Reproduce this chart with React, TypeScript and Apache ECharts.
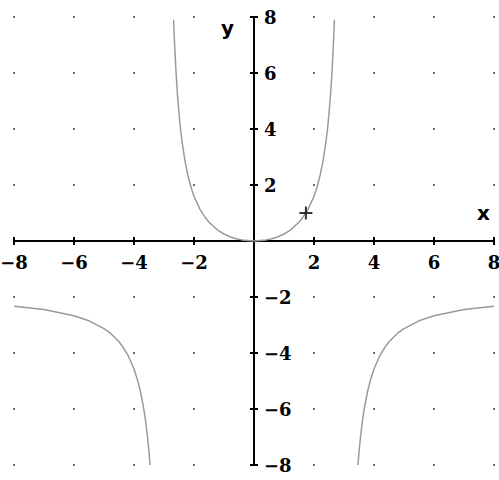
import React, { useEffect, useRef } from "react";
import * as echarts from "echarts";

// Tick values on both axes
const tickValues: number[] = [-8, -6, -4, -2, 0, 2, 4, 6, 8];

// Curve branches (x, y); null separates branches
const centerX: number[] = [-2.68, -2.65, -2.6, -2.55, -2.5, -2.45, -2.4, -2.3, -2.2, -2.1, -2.0, -1.8, -1.6, -1.5, -1.2, -1.0, -0.8, -0.6, -0.4, 0, 0.4, 0.6, 0.8, 1.0, 1.2, 1.5, 1.6, 1.8, 2.0, 2.1, 2.2, 2.3, 2.4, 2.45, 2.5, 2.55, 2.6, 2.65, 2.68];
const centerY: number[] = [7.9, 7.1, 6.04, 5.21, 4.55, 4.0, 3.56, 2.85, 2.33, 1.92, 1.6, 1.13, 0.8, 0.67, 0.38, 0.25, 0.15, 0.08, 0.04, 0, 0.04, 0.08, 0.15, 0.25, 0.38, 0.67, 0.8, 1.13, 1.6, 1.92, 2.33, 2.85, 3.56, 4.0, 4.55, 5.21, 6.04, 7.1, 7.9];

const leftX: number[] = [-8, -7, -6, -5.5, -5, -4.8, -4.5, -4.4, -4.2, -4, -3.9, -3.8, -3.7, -3.65, -3.6, -3.55, -3.5, -3.465];
const leftY: number[] = [-2.33, -2.45, -2.67, -2.85, -3.13, -3.28, -3.6, -3.74, -4.08, -4.57, -4.9, -5.31, -5.84, -6.16, -6.55, -7.0, -7.54, -8.0];

const rightX: number[] = [3.465, 3.5, 3.55, 3.6, 3.65, 3.7, 3.8, 3.9, 4, 4.2, 4.4, 4.5, 4.8, 5, 5.5, 6, 7, 8];
const rightY: number[] = [-8.0, -7.54, -7.0, -6.55, -6.16, -5.84, -5.31, -4.9, -4.57, -4.08, -3.74, -3.6, -3.28, -3.13, -2.85, -2.67, -2.45, -2.33];

// Marked point
const markX: number[] = [1.73];
const markY: number[] = [1];

const fmt = (v: number) => (v === 0 ? "" : v < 0 ? "\u2212" + -v : String(v));

export default function App() {
  const ref = useRef<HTMLDivElement>(null);

  useEffect(() => {
    if (!ref.current) return;
    const chart = echarts.init(ref.current, undefined, { renderer: "svg" });

    const dots: number[][] = [];
    tickValues.forEach((gx) => {
      tickValues.forEach((gy) => {
        if (gx !== 0 && gy !== 0) dots.push([gx, gy]);
      });
    });

    const curve: (number[] | null)[] = [];
    centerX.forEach((x, i) => curve.push([x, centerY[i]]));
    curve.push(null);
    leftX.forEach((x, i) => curve.push([x, leftY[i]]));
    curve.push(null);
    rightX.forEach((x, i) => curve.push([x, rightY[i]]));

    const labelFont = {
      fontFamily: "DejaVu Serif",
      fontWeight: "bold" as const,
      fontSize: 18,
      color: "#000",
    };
    const lineStyle = { color: "#000", width: 2 };

    // grid: left 14, right 494, top 17, bottom 465 -> zero at (254, 241)
    const xOff = -224;
    const yOff = -240;

    chart.setOption({
      animation: false,
      backgroundColor: "#fff",
      grid: { left: 14, right: 5, top: 17, bottom: 15, containLabel: false, outerBoundsMode: "none" },
      xAxis: [
        {
          type: "value",
          position: "bottom",
          offset: xOff,
          min: -8,
          max: 8,
          interval: 2,
          axisLine: { show: true, onZero: false, lineStyle },
          axisTick: { show: true, length: 4, inside: false, lineStyle },
          axisLabel: { ...labelFont, margin: 12, formatter: fmt, showMinLabel: true, showMaxLabel: true },
          splitLine: { show: false },
        },
        {
          type: "value",
          position: "top",
          offset: xOff,
          min: -8,
          max: 8,
          interval: 2,
          axisLine: { show: true, onZero: false, lineStyle },
          axisTick: { show: true, length: 4, inside: false, lineStyle },
          axisLabel: { show: false },
          splitLine: { show: false },
        },
      ],
      yAxis: [
        {
          type: "value",
          position: "left",
          offset: yOff,
          min: -8,
          max: 8,
          interval: 2,
          axisLine: { show: true, onZero: false, lineStyle },
          axisTick: { show: true, length: 4, inside: false, lineStyle },
          axisLabel: { show: false },
          splitLine: { show: false },
        },
        {
          type: "value",
          position: "right",
          offset: yOff,
          min: -8,
          max: 8,
          interval: 2,
          axisLine: { show: true, onZero: false, lineStyle },
          axisTick: { show: true, length: 4, inside: false, lineStyle },
          axisLabel: { ...labelFont, margin: 10, formatter: fmt, showMinLabel: true, showMaxLabel: true },
          splitLine: { show: false },
        },
      ],
      graphic: [
        {
          type: "text",
          left: 221,
          top: 18,
          style: { text: "y", font: "bold 20px 'DejaVu Sans'", fill: "#000" },
        },
        {
          type: "text",
          left: 477,
          top: 203,
          style: { text: "x", font: "bold 20px 'DejaVu Sans'", fill: "#000" },
        },
      ],
      series: [
        {
          type: "scatter",
          xAxisIndex: 0,
          yAxisIndex: 0,
          data: dots,
          symbol: "rect",
          symbolSize: 2,
          itemStyle: { color: "#444" },
          silent: true,
        },
        {
          type: "line",
          xAxisIndex: 0,
          yAxisIndex: 0,
          data: curve,
          showSymbol: false,
          symbol: "none",
          connectNulls: false,
          smooth: false,
          lineStyle: { color: "#9a9a9a", width: 1.5 },
          clip: true,
        },
        {
          type: "scatter",
          xAxisIndex: 0,
          yAxisIndex: 0,
          z: 5,
          data: markX.map((x, i) => [x, markY[i]]),
          symbol: "path://M0,5.5h13v2h-13zM5.5,0h2v13h-2z",
          symbolSize: 13,
          itemStyle: { color: "#000" },
        },
      ],
    });

    return () => chart.dispose();
  }, []);

  return (
    <div
      ref={ref}
      style={{ position: "absolute", left: 0, top: 0, width: 499, height: 480 }}
    />
  );
}
